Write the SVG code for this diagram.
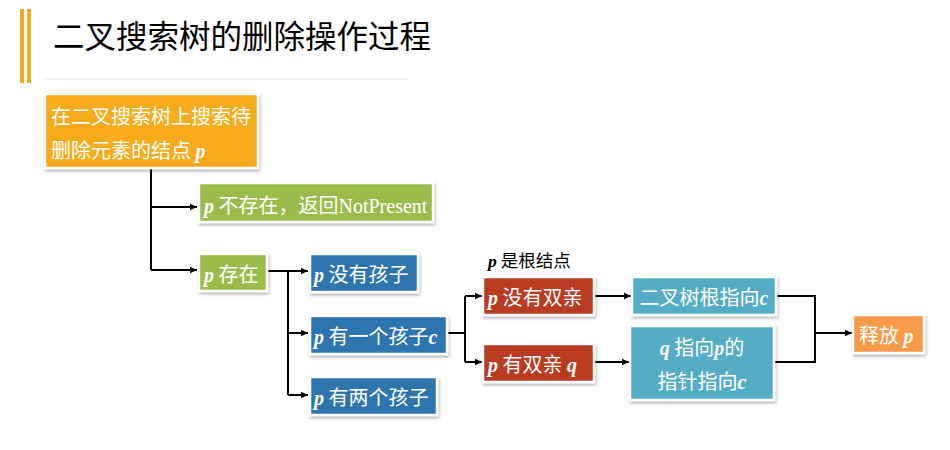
<svg xmlns="http://www.w3.org/2000/svg" width="950" height="450" viewBox="0 0 950 450">
<defs>
<filter id="sh" x="-10%" y="-10%" width="130%" height="140%">
<feDropShadow dx="1" dy="2" stdDeviation="1.5" flood-color="#000" flood-opacity="0.3"/>
</filter>
<marker id="ar" markerWidth="8" markerHeight="8" refX="7" refY="4" orient="auto" markerUnits="userSpaceOnUse">
<path d="M0,0.8 L7,4 L0,7.2 Z" fill="#000"/>
</marker>
<style>
.box{stroke:#fff;stroke-width:2.5;filter:url(#sh)}
.t{font-family:"Noto Sans CJK SC","Liberation Sans",sans-serif;font-size:20px;fill:#fff}
.i{font-family:"Liberation Serif",serif;font-style:italic;font-weight:bold}
.r{font-family:"Liberation Serif",serif}
.c{fill:none;stroke:#000;stroke-width:2}
.ca{fill:none;stroke:#000;stroke-width:2;marker-end:url(#ar)}
</style>
</defs>
<rect width="950" height="450" fill="#fff"/>
<g id="title">
<rect x="20" y="9" width="4" height="74" fill="#F5A81E"/>
<rect x="27" y="9" width="4" height="74" fill="#F5A81E"/>
<text x="53" y="48" font-family="Noto Sans CJK SC,sans-serif" font-size="31.5" fill="#000">二叉搜索树的删除操作过程</text>
<line x1="45" y1="79" x2="408" y2="79" stroke="#ddd" stroke-width="1"/>
</g>
<g id="connectors">
<path class="c" d="M151,168 V270"/>
<path class="ca" d="M151,207 H197"/>
<path class="ca" d="M151,270 H197"/>
<path class="c" d="M267,271 H288 V395"/>
<path class="ca" d="M288,271 H308"/>
<path class="ca" d="M288,333 H308"/>
<path class="ca" d="M288,395 H308"/>
<path class="c" d="M447,333 H465"/>
<path class="c" d="M465,296 V362"/>
<path class="ca" d="M465,296 H482"/>
<path class="ca" d="M465,362 H482"/>
<path class="ca" d="M594,296 H631"/>
<path class="ca" d="M594,362 H629"/>
<path class="c" d="M776,296 H815 V362 H774"/>
<path class="ca" d="M815,333 H852"/>
</g>
<g id="n1">
<rect class="box" x="45" y="94" width="213" height="74" fill="#F5AB1F"/>
<text class="t" x="51" y="124">在二叉搜索树上搜索待</text>
<text class="t" x="51" y="158">删除元素的结点 <tspan class="i">p</tspan></text>
</g>
<g id="n2">
<rect class="box" x="199" y="183" width="234" height="39" fill="#9BBB4B"/>
<text class="t" x="204" y="213"><tspan class="i">p</tspan> 不存在，返回<tspan class="r">NotPresent</tspan></text>
</g>
<g id="n3">
<rect class="box" x="199" y="254" width="68" height="37" fill="#9BBB4B"/>
<text class="t" x="204" y="282"><tspan class="i">p</tspan> 存在</text>
</g>
<g id="n4">
<rect class="box" x="310" y="254" width="108" height="38" fill="#2E75AE"/>
<text class="t" x="314" y="282"><tspan class="i">p</tspan> 没有孩子</text>
</g>
<g id="n5">
<rect class="box" x="310" y="316" width="137" height="38" fill="#2E75AE"/>
<text class="t" x="314" y="344"><tspan class="i">p</tspan> 有一个孩子<tspan class="i">c</tspan></text>
</g>
<g id="n6">
<rect class="box" x="310" y="377" width="127" height="38" fill="#2E75AE"/>
<text class="t" x="314" y="405"><tspan class="i">p</tspan> 有两个孩子</text>
</g>
<g id="lbl">
<text x="488" y="267" font-family="Noto Sans CJK SC,sans-serif" font-size="17.5" fill="#000"><tspan class="i">p</tspan> 是根结点</text>
</g>
<g id="n7">
<rect class="box" x="483" y="277" width="111" height="38" fill="#B93A22"/>
<text class="t" x="488" y="305"><tspan class="i">p</tspan> 没有双亲</text>
</g>
<g id="n8">
<rect class="box" x="483" y="344" width="111" height="38" fill="#B93A22"/>
<text class="t" x="488" y="372"><tspan class="i">p</tspan> 有双亲 <tspan class="i">q</tspan></text>
</g>
<g id="n9">
<rect class="box" x="632" y="277" width="144" height="38" fill="#55ACC5"/>
<text class="t" x="704" y="305" text-anchor="middle">二叉树根指向<tspan class="i">c</tspan></text>
</g>
<g id="n10">
<rect class="box" x="630" y="326" width="144" height="74" fill="#55ACC5"/>
<text class="t" x="702" y="355" text-anchor="middle"><tspan class="i">q</tspan> 指向<tspan class="i">p</tspan>的</text>
<text class="t" x="702" y="389" text-anchor="middle">指针指向<tspan class="i">c</tspan></text>
</g>
<g id="n11">
<rect class="box" x="853" y="315" width="71" height="38" fill="#F79A4A"/>
<text class="t" x="859" y="343">释放 <tspan class="i">p</tspan></text>
</g>
</svg>
